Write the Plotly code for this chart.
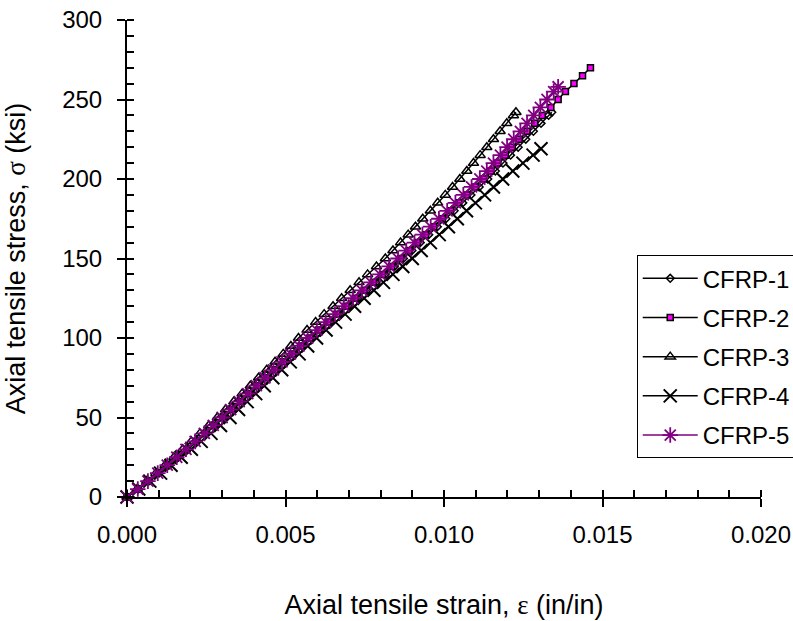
import plotly.graph_objects as go

# ---- data ----
stress_1 = [0, 5, 10, 15, 20, 25, 30, 35, 40, 45, 50, 55, 60, 65, 70, 75, 80, 85, 90, 95, 100,
            105, 110, 115, 120, 125, 130, 135, 140, 145, 150, 155, 160, 165, 170, 175, 180, 185,
            190, 195, 200, 205, 210, 215, 220, 225, 230, 235, 240, 242]
strain_1 = [0, 0.00036, 0.00069, 0.00101, 0.00132, 0.00162, 0.00192, 0.00221, 0.00250, 0.00279,
            0.00307, 0.00335, 0.00362, 0.00390, 0.00417, 0.00445, 0.00472, 0.00500, 0.00527, 0.00555,
            0.00582, 0.00611, 0.00640, 0.00669, 0.00698, 0.00727, 0.00756, 0.00785, 0.00814, 0.00843,
            0.00872, 0.00899, 0.00925, 0.00952, 0.00979, 0.01006, 0.01032, 0.01059, 0.01085, 0.01111,
            0.01138, 0.01162, 0.01186, 0.01210, 0.01234, 0.01258, 0.01282, 0.01306, 0.01330, 0.01340]

stress_2 = [0, 5, 10, 15, 20, 25, 30, 35, 40, 45, 50, 55, 60, 65, 70, 75, 80, 85, 90, 95, 100,
            105, 110, 115, 120, 125, 130, 135, 140, 145, 150, 155, 160, 165, 170, 175, 180, 185,
            190, 195, 200, 205, 210, 215, 220, 225, 230, 235, 240, 245, 250, 255, 260, 265, 270]
strain_2 = [0, 0.00035, 0.00067, 0.00099, 0.00129, 0.00159, 0.00189, 0.00218, 0.00247, 0.00275,
            0.00303, 0.00331, 0.00358, 0.00385, 0.00412, 0.00440, 0.00467, 0.00494, 0.00522, 0.00549,
            0.00577, 0.00605, 0.00634, 0.00662, 0.00691, 0.00720, 0.00748, 0.00777, 0.00806, 0.00835,
            0.00863, 0.00890, 0.00916, 0.00942, 0.00968, 0.00995, 0.01021, 0.01047, 0.01073, 0.01099,
            0.01125, 0.01148, 0.01170, 0.01193, 0.01215, 0.01237, 0.01262, 0.01286, 0.01310, 0.01337,
            0.01360, 0.01383, 0.01410, 0.01437, 0.01462]

stress_3 = [0, 5, 10, 15, 20, 25, 30, 35, 40, 45, 50, 55, 60, 65, 70, 75, 80, 85, 90, 95, 100,
            105, 110, 115, 120, 125, 130, 135, 140, 145, 150, 155, 160, 165, 170, 175, 180, 185,
            190, 195, 200, 205, 210, 215, 220, 225, 230, 235, 240, 242]
strain_3 = [0, 0.00032, 0.00062, 0.00091, 0.00120, 0.00148, 0.00176, 0.00203, 0.00230, 0.00258,
            0.00285, 0.00311, 0.00337, 0.00363, 0.00389, 0.00415, 0.00441, 0.00467, 0.00493, 0.00517,
            0.00541, 0.00568, 0.00595, 0.00622, 0.00650, 0.00677, 0.00704, 0.00732, 0.00759, 0.00787,
            0.00815, 0.00839, 0.00863, 0.00887, 0.00910, 0.00933, 0.00957, 0.00980, 0.01004, 0.01027,
            0.01050, 0.01072, 0.01093, 0.01114, 0.01135, 0.01156, 0.01177, 0.01198, 0.01219, 0.01227]

stress_4 = [0, 5, 10, 15, 20, 25, 30, 35, 40, 45, 50, 55, 60, 65, 70, 75, 80, 85, 90, 95, 100,
            105, 110, 115, 120, 125, 130, 135, 140, 145, 150, 155, 160, 165, 170, 175, 180, 185,
            190, 195, 200, 205, 210, 215, 219]
strain_4 = [0, 0.00037, 0.00072, 0.00106, 0.00139, 0.00171, 0.00203, 0.00234, 0.00265, 0.00295,
            0.00325, 0.00352, 0.00379, 0.00406, 0.00433, 0.00460, 0.00488, 0.00515, 0.00543, 0.00570,
            0.00598, 0.00628, 0.00658, 0.00688, 0.00718, 0.00748, 0.00779, 0.00809, 0.00839, 0.00870,
            0.00900, 0.00928, 0.00957, 0.00985, 0.01014, 0.01042, 0.01071, 0.01099, 0.01128, 0.01156,
            0.01185, 0.01217, 0.01249, 0.01281, 0.01306]

stress_5 = [0, 5, 10, 15, 20, 25, 30, 35, 40, 45, 50, 55, 60, 65, 70, 75, 80, 85, 90, 95, 100,
            105, 110, 115, 120, 125, 130, 135, 140, 145, 150, 155, 160, 165, 170, 175, 180, 185,
            190, 195, 200, 205, 210, 215, 220, 225, 230, 235, 240, 245, 250, 255, 258]
strain_5 = [0, 0.00034, 0.00066, 0.00097, 0.00127, 0.00157, 0.00186, 0.00215, 0.00244, 0.00272,
            0.00300, 0.00327, 0.00354, 0.00381, 0.00408, 0.00435, 0.00462, 0.00489, 0.00516, 0.00543,
            0.00570, 0.00599, 0.00627, 0.00656, 0.00684, 0.00713, 0.00741, 0.00770, 0.00798, 0.00827,
            0.00855, 0.00881, 0.00907, 0.00932, 0.00958, 0.00984, 0.01010, 0.01036, 0.01061, 0.01087,
            0.01113, 0.01135, 0.01156, 0.01178, 0.01199, 0.01220, 0.01241, 0.01262, 0.01283, 0.01304,
            0.01325, 0.01346, 0.01360]

names = ["CFRP-1", "CFRP-2", "CFRP-3", "CFRP-4", "CFRP-5"]
x_title = 'Axial tensile strain, <span style="font-family:\'Liberation Serif\', serif">ε</span> (in/in)'
y_title = 'Axial tensile stress, <span style="font-family:\'Liberation Serif\', serif">σ</span> (ksi)'

FONT = "Liberation Sans, Arial, sans-serif"

styles = [
    dict(line=dict(color="black", width=1.5),
         marker=dict(symbol="diamond-open", size=6, color="black", line=dict(width=1.5))),
    dict(line=dict(color="black", width=1.5),
         marker=dict(symbol="square", size=6, color="#FF00FF", line=dict(color="black", width=1.5))),
    dict(line=dict(color="black", width=1.5),
         marker=dict(symbol="triangle-up-open", size=9, color="black", line=dict(width=1.5))),
    dict(line=dict(color="black", width=1.5),
         marker=dict(symbol="x-thin-open", size=13, color="black", line=dict(width=2))),
    dict(line=dict(color="#800080", width=1.5),
         marker=dict(symbol="asterisk-open", size=13, color="#800080", line=dict(width=1.8))),
]
xs = [strain_1, strain_2, strain_3, strain_4, strain_5]
ys = [stress_1, stress_2, stress_3, stress_4, stress_5]

fig = go.Figure()
for i in range(5):
    fig.add_trace(go.Scatter(x=xs[i], y=ys[i], mode="lines+markers", name=names[i],
                             legendgroup=names[i], cliponaxis=False, **styles[i]))

axis_common = dict(showgrid=False, zeroline=False, showline=True, linecolor="black", linewidth=2,
                   ticks="outside", ticklen=8, tickwidth=2, tickcolor="black",
                   tickfont=dict(family=FONT, size=24, color="black"))

fig.update_layout(
    width=793, height=621,
    margin=dict(l=127, r=32, t=20, b=124, autoexpand=False),
    plot_bgcolor="white", paper_bgcolor="white",
    font=dict(family=FONT, size=24, color="black"),
    showlegend=True,
    legend=dict(x=0.804, y=0.507, xanchor="left", yanchor="top",
                bordercolor="black", borderwidth=1, bgcolor="white",
                font=dict(family=FONT, size=24, color="black"),
                tracegroupgap=5, itemwidth=55),
    xaxis=dict(range=[0, 0.02], dtick=0.005, tickformat=".3f", ticklabelstandoff=7,
               minor=dict(dtick=0.001, ticks="inside", ticklen=7, tickwidth=2, tickcolor="black"),
               title=dict(text=x_title, font=dict(family=FONT, size=27), standoff=48),
               **axis_common),
    yaxis=dict(range=[0, 300], dtick=50, ticklabelstandoff=10,
               minor=dict(dtick=10, ticks="inside", ticklen=7, tickwidth=2, tickcolor="black"),
               title=dict(text=y_title, font=dict(family=FONT, size=27), standoff=29),
               **axis_common),
    xaxis2=dict(overlaying="x", matches="x", range=[0, 0.02], dtick=0.005, showgrid=False,
                zeroline=False, showline=False, ticks="inside", ticklen=6, tickwidth=2,
                tickcolor="black", showticklabels=False, side="bottom"),
    yaxis2=dict(overlaying="y", matches="y", range=[0, 300], dtick=50, showgrid=False,
                zeroline=False, showline=False, ticks="inside", ticklen=6, tickwidth=2,
                tickcolor="black", showticklabels=False, side="left"),
)
# invisible trace to activate the second axes (inside part of the crossing major ticks)
fig.add_trace(go.Scatter(x=[None], y=[None], xaxis="x2", yaxis="y2", showlegend=False,
                         hoverinfo="skip"))

fig.write_html("out.html")
